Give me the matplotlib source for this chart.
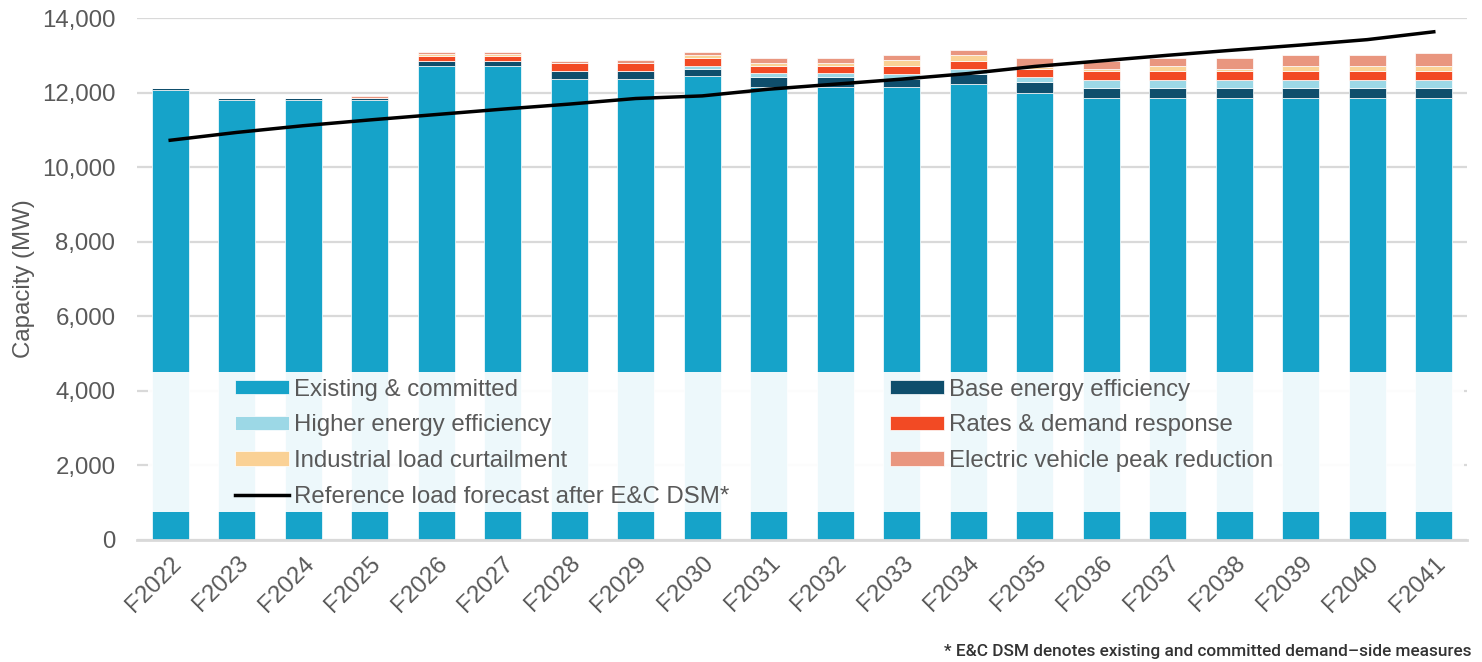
import numpy as np
import matplotlib

matplotlib.use('Agg')

import matplotlib.pyplot as plt
from matplotlib.patches import Rectangle
from matplotlib.ticker import FuncFormatter


# fiscal years on the x axis
years = ['F2022', 'F2023', 'F2024', 'F2025', 'F2026', 'F2027', 'F2028', 'F2029', 'F2030', 'F2031',
         'F2032', 'F2033', 'F2034', 'F2035', 'F2036', 'F2037', 'F2038', 'F2039', 'F2040', 'F2041']

# stacked capacity components (MW)
existing = [12070, 11805, 11805, 11805, 12715, 12715, 12360, 12360, 12440, 12140,
            12140, 12140, 12225, 11995, 11850, 11850, 11850, 11850, 11850, 11850]
base_ee = [65, 45, 45, 45, 140, 140, 205, 205, 197, 285,
           285, 224, 277, 280, 285, 285, 285, 285, 285, 285]
higher_ee = [0, 0, 0, 0, 0, 0, 0, 0, 72, 90,
             90, 143, 143, 145, 215, 215, 215, 215, 215, 215]
rates_dr = [0, 0, 0, 0, 134, 134, 215, 215, 215, 206,
            206, 215, 206, 215, 215, 215, 215, 215, 215, 215]
industrial = [0, 0, 0, 0, 40, 40, 0, 0, 80, 72,
              72, 143, 152, 40, 70, 143, 70, 143, 143, 143]
ev_peak = [0, 0, 0, 70, 60, 60, 75, 80, 72, 134,
           134, 143, 143, 250, 215, 215, 288, 287, 287, 358]

# reference load forecast after E&C DSM (MW)
load_forecast = [10720, 10930, 11110, 11265, 11410, 11555, 11690, 11840, 11910, 12090,
                 12225, 12360, 12510, 12700, 12850, 13000, 13140, 13275, 13420, 13630]

series = [
    ('Existing & committed', existing, '#16A3C9'),
    ('Base energy efficiency', base_ee, '#0F4E6C'),
    ('Higher energy efficiency', higher_ee, '#9CD8E6'),
    ('Rates & demand response', rates_dr, '#F24A24'),
    ('Industrial load curtailment', industrial, '#FAD195'),
    ('Electric vehicle peak reduction', ev_peak, '#E9967F'),
]

plt.rcParams['font.family'] = ['Liberation Sans', 'DejaVu Sans']
text_col = '#595959'
grid_col = '#D9D9D9'
fs = 17.3

fig = plt.figure(figsize=(14.82, 6.62), dpi=100)
ax = fig.add_axes([0.0924, 0.1846, 0.8975, 0.7882])

x = np.arange(len(years))
bottom = np.zeros(len(years))
handles = {}
for name, vals, col in series:
    b = ax.bar(x, vals, width=0.56, bottom=bottom, color=col, edgecolor='white',
               linewidth=0.5, label=name, zorder=2)
    handles[name] = b
    bottom += np.array(vals)

line, = ax.plot(x, load_forecast, color='black', linewidth=2.5, zorder=3,
                label='Reference load forecast after E&C DSM*')

ax.set_xlim(-0.5, len(years) - 0.5)
ax.set_ylim(0, 14000)
ax.set_yticks(np.arange(0, 14001, 2000))
ax.yaxis.set_major_formatter(FuncFormatter(lambda v, p: f'{int(v):,}'))
ax.grid(axis='y', color=grid_col, linewidth=1.6, zorder=0)
ax.set_axisbelow(True)

for s in ['top', 'right', 'left']:
    ax.spines[s].set_visible(False)
ax.spines['bottom'].set_color(grid_col)
ax.spines['bottom'].set_linewidth(2)

ax.set_xticks(x)
ax.set_xticklabels(years, rotation=45, ha='right', rotation_mode='anchor')
ax.tick_params(axis='x', length=0, pad=9, labelsize=fs, labelcolor=text_col)
ax.tick_params(axis='y', length=0, pad=15.5, labelsize=fs, labelcolor=text_col)
ax.set_ylabel('Capacity (MW)', fontsize=fs, color=text_col, labelpad=5)

# faded backdrop behind the legend
ax.add_patch(Rectangle((0.008, 0.053), 0.99, 0.269, transform=ax.transAxes,
                       facecolor='white', alpha=0.93, edgecolor='none', zorder=4))

order = ['Existing & committed', 'Higher energy efficiency', 'Industrial load curtailment']
h = [handles[n] for n in order] + [line] + \
    [handles[n] for n in ['Base energy efficiency', 'Rates & demand response',
                          'Electric vehicle peak reduction']]
labels = order + ['Reference load forecast after E&C DSM*', 'Base energy efficiency',
                  'Rates & demand response', 'Electric vehicle peak reduction']
leg = ax.legend(h, labels, ncol=2, loc='upper left', bbox_to_anchor=(0.0737, 0.309),
                frameon=False, fontsize=fs, handlelength=2.25, handleheight=0.55,
                handletextpad=0.2, columnspacing=6.7, labelspacing=0.57,
                borderpad=0, borderaxespad=0)
leg.set_zorder(5)
for t in leg.get_texts():
    t.set_color(text_col)

fig.text(0.993, 0.004, '* E&C DSM denotes existing and committed demand\u2013side measures',
         ha='right', va='bottom', fontsize=12.4, family='Roboto', fontweight='medium',
         color='#333333')

plt.savefig('out.png', dpi=100)
